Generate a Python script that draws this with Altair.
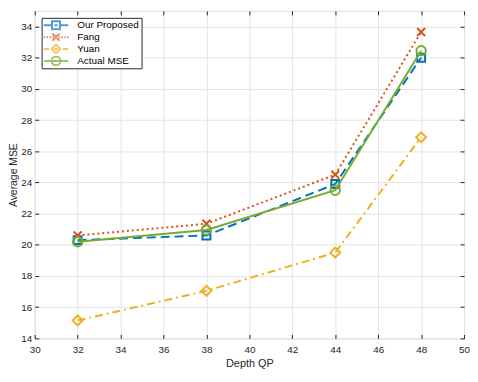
import altair as alt
import pandas as pd

# ---- data ----
qp = [32, 38, 44, 48]
series = ["Our Proposed", "Fang", "Yuan", "Actual MSE"]
proposed = [20.3, 20.6, 23.9, 32.0]
fang = [20.6, 21.35, 24.5, 33.65]
yuan = [15.15, 17.05, 19.5, 26.9]
actual = [20.2, 20.95, 23.5, 32.45]
x_ticks = list(range(30, 51, 2))
y_ticks = list(range(14, 35, 2))

values = [proposed, fang, yuan, actual]
rows = []
for s, vals in zip(series, values):
    for q, v in zip(qp, vals):
        rows.append({"series": s, "qp": q, "mse": v})
df = pd.DataFrame(rows)

# ---- styles ----
colors = ["#0072BD", "#D95319", "#EDB120", "#77AC30"]
dashes = [[9, 5], [2, 3], [8, 4, 2, 4], None]
shapes = ["square", "M-1,-1L1,1M-1,1L1,-1", "diamond", "circle"]
sizes = [64, 64, 100, 90]

# legend symbol paths (line sample + marker); unit = sqrt(symbolSize)/2 = 3 px
U = 5.0 / 3.0


def sc(v):
    return f"{v * U:.2f}"


dots = "".join(f"M{sc(-1 + 0.6 * k)},0H{sc(-1 + 0.6 * k + 0.3)}" for k in range(9))
legend_paths = [
    f"M{sc(-1)},0H{sc(0.6)}M{sc(1.2)},0H{sc(1.8)}M{sc(2.4)},0H{sc(4)}"
    f"M{sc(0.7)},{sc(-0.8)}H{sc(2.3)}V{sc(0.8)}H{sc(0.7)}Z",
    dots + f"M{sc(0.8)},{sc(-0.7)}L{sc(2.2)},{sc(0.7)}M{sc(0.8)},{sc(0.7)}L{sc(2.2)},{sc(-0.7)}",
    f"M{sc(-1)},0H{sc(0.1)}M{sc(0.5)},0H{sc(0.7)}M{sc(1.1)},0H{sc(1.9)}M{sc(2.3)},0H{sc(2.5)}M{sc(2.9)},0H{sc(4)}"
    f"M{sc(1.5)},{sc(-0.9)}L{sc(2.4)},0L{sc(1.5)},{sc(0.9)}L{sc(0.6)},0Z",
    f"M{sc(-1)},0H{sc(4)}M{sc(2.4)},0A{sc(0.9)},{sc(0.9)} 0 1 1 {sc(0.6)},0A{sc(0.9)},{sc(0.9)} 0 1 1 {sc(2.4)},0Z",
]

FONT = "Liberation Sans"
AX = "#262626"
xs = alt.Scale(domain=[30, 50], nice=False, zero=False)
ys = alt.Scale(domain=[14, 35], nice=False, zero=False)

main_x_axis = alt.Axis(values=x_ticks, grid=True, gridColor="#e4e4e4", ticks=False, domain=False,
                       labelPadding=6, labelFontSize=10, labelColor=AX, labelFont=FONT,
                       labelFlush=False, title="Depth QP", titleFont=FONT, titleFontSize=11,
                       titleFontWeight="normal", titleColor=AX, titlePadding=3)
main_y_axis = alt.Axis(values=y_ticks, grid=True, gridColor="#e4e4e4", ticks=False, domain=False,
                       labelPadding=3, labelFontSize=10, labelColor=AX, labelFont=FONT,
                       labelFlush=False, title="Average MSE", titleFont=FONT, titleFontSize=10.5,
                       titleFontWeight="normal", titleColor=AX, titlePadding=2)

layers = []
for i, s in enumerate(series):
    base = alt.Chart(df).transform_filter(alt.datum.series == s)
    if i == 0:
        xenc = alt.X("qp:Q", scale=xs, axis=main_x_axis)
        yenc = alt.Y("mse:Q", scale=ys, axis=main_y_axis)
    else:
        xenc = alt.X("qp:Q", scale=xs, axis=None)
        yenc = alt.Y("mse:Q", scale=ys, axis=None)
    line_kw = dict(color=colors[i], strokeWidth=2)
    if dashes[i] is not None:
        line_kw["strokeDash"] = dashes[i]
    layers.append(base.mark_line(**line_kw).encode(x=xenc, y=yenc))
    layers.append(base.mark_point(color=colors[i], shape=shapes[i], size=sizes[i], filled=False,
                                  strokeWidth=2, opacity=1).encode(
        x=alt.X("qp:Q", scale=xs, axis=None), y=alt.Y("mse:Q", scale=ys, axis=None)))


def tick_layer(xo, yo):
    return alt.Chart(df).transform_filter("false").mark_point().encode(
        x=alt.X("qp:Q", scale=xs, axis=alt.Axis(orient=xo, values=x_ticks, labels=False, domain=False,
                                                grid=False, ticks=True, tickSize=4, offset=-4,
                                                tickColor=AX, title=None)),
        y=alt.Y("mse:Q", scale=ys, axis=alt.Axis(orient=yo, values=y_ticks, labels=False, domain=False,
                                                 grid=False, ticks=True, tickSize=4, offset=-4,
                                                 tickColor=AX, title=None)),
    )


leg = alt.Legend(title=None, orient="top-left", offset=7, padding=2, rowPadding=1, clipHeight=11,
                 strokeColor=AX, fillColor="white", symbolSize=36, symbolStrokeWidth=2,
                 symbolFillColor="transparent", labelOffset=24, labelFont=FONT, labelFontSize=10,
                 labelColor="#000000", labelExpr="datum.label + '                '")

legend_layer = alt.Chart(df).transform_filter("false").mark_point(filled=False, size=36, strokeWidth=2).encode(
    x=alt.X("qp:Q", scale=xs, axis=None),
    y=alt.Y("mse:Q", scale=ys, axis=None),
    color=alt.Color("series:N", scale=alt.Scale(domain=series, range=colors), legend=leg),
    shape=alt.Shape("series:N", scale=alt.Scale(domain=series, range=legend_paths), legend=leg),
)

chart = alt.layer(*layers, tick_layer("bottom", "left"), tick_layer("top", "right"), legend_layer).resolve_axis(
    x="independent", y="independent"
).properties(
    width=434, height=331,
    autosize=alt.AutoSizeParams(type="none"),
    padding={"left": 27, "top": 1, "right": 6, "bottom": 30},
).configure_view(stroke=AX, strokeWidth=1).configure(background="white")

chart.save("out.html", embed_options={"renderer": "svg", "actions": False})
